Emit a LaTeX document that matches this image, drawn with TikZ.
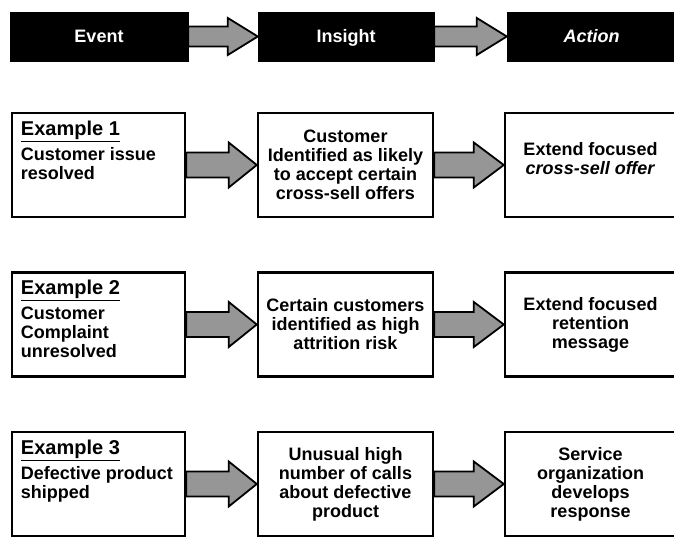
\documentclass[tikz,border=0pt]{standalone}
\usepackage{fontspec}
\setmainfont{Liberation Sans}
\usetikzlibrary{calc}
\definecolor{arrowgray}{RGB}{150,150,150}

% block arrow from the east side of one node to the west side of another
% #1 from, #2 to, #3 shaft half height, #4 head half height, #5 head length
\newcommand\blockarrow[5]{%
  \draw[blockarrowstyle] let \p1=(#1.east), \p2=(#2.west) in
    (\x1,\y1+#3pt) -- (\x2-#5pt,\y1+#3pt) -- (\x2-#5pt,\y1+#4pt) -- (\x2,\y1)
    -- (\x2-#5pt,\y1-#4pt) -- (\x2-#5pt,\y1-#3pt) -- (\x1,\y1-#3pt) -- cycle;
}

\begin{document}
\begin{tikzpicture}[x=1pt,y=-1pt,
  every node/.style={font=\fontsize{18}{19}\selectfont\bfseries, inner sep=0pt},
  headbox/.style={fill=black, draw=black, text=white, minimum height=49pt,
    text height=13pt, text depth=0pt},
  stagebox/.style={draw=black, line width=2.5pt, minimum height=104pt},
  exlabel/.style={anchor=base west, font=\fontsize{20}{22}\selectfont\bfseries},
  bodytext/.style={align=left, anchor=north west},
  midtext/.style={align=center},
  blockarrowstyle/.style={draw=black, fill=arrowgray, line width=1.8pt, line join=miter},
]
\useasboundingbox (0,0) rectangle (674,537);

% header row
\node[headbox, minimum width=178pt] (hev) at (99,36.5) {Event};
\node[headbox, minimum width=176pt] (hin) at (346,36.5) {Insight};
\node[headbox, minimum width=169pt] (hac) at (591.5,36.5) {\textit{Action}};
\blockarrow{hev}{hin}{10}{18.5}{30}
\blockarrow{hin}{hac}{10}{18.5}{30}

% example 1
\node[stagebox, minimum width=173pt] (e1) at (98.5,165) {};
\node[stagebox, minimum width=175pt] (i1) at (345.5,165) {};
\node[stagebox, minimum width=171pt] (a1) at (590.5,165) {};
\node[exlabel] (t1) at ($(e1.north west)+(10,23.5)$) {\underline{Example 1}};
\node[bodytext] (d1) at ($(e1.north west)+(10,35.5)$) {Customer issue\\resolved};
\node[midtext] (n1) at (i1.center) {Customer\\Identified as likely\\to accept certain\\cross-sell offers};
\node[midtext] (c1) at ($(a1.center)+(0,-6)$) {Extend focused\\\textit{cross-sell offer}};
\blockarrow{e1}{i1}{12.5}{22.5}{28}
\blockarrow{i1}{a1}{12.5}{22.5}{30}

% example 2
\node[stagebox, minimum width=173pt] (e2) at (98.5,324.5) {};
\node[stagebox, minimum width=175pt] (i2) at (345.5,324.5) {};
\node[stagebox, minimum width=171pt] (a2) at (590.5,324.5) {};
\node[exlabel] (t2) at ($(e2.north west)+(10,23.5)$) {\underline{Example 2}};
\node[bodytext] (d2) at ($(e2.north west)+(10,35.5)$) {Customer\\Complaint\\unresolved};
\node[midtext] (n2) at (i2.center) {Certain customers\\identified as high\\attrition risk};
\node[midtext] (c2) at (a2.center) {Extend focused\\retention\\message};
\blockarrow{e2}{i2}{12.5}{22.5}{28}
\blockarrow{i2}{a2}{12.5}{22.5}{30}

% example 3
\node[stagebox, minimum width=173pt] (e3) at (98.5,484) {};
\node[stagebox, minimum width=175pt] (i3) at (345.5,484) {};
\node[stagebox, minimum width=171pt] (a3) at (590.5,484) {};
\node[exlabel] (t3) at ($(e3.north west)+(10,23.5)$) {\underline{Example 3}};
\node[bodytext] (d3) at ($(e3.north west)+(10,35.5)$) {Defective product\\shipped};
\node[midtext] (n3) at (i3.center) {Unusual high\\number of calls\\about defective\\product};
\node[midtext] (c3) at (a3.center) {Service\\organization\\develops\\response};
\blockarrow{e3}{i3}{12.5}{22.5}{28}
\blockarrow{i3}{a3}{12.5}{22.5}{30}
\end{tikzpicture}
\end{document}
